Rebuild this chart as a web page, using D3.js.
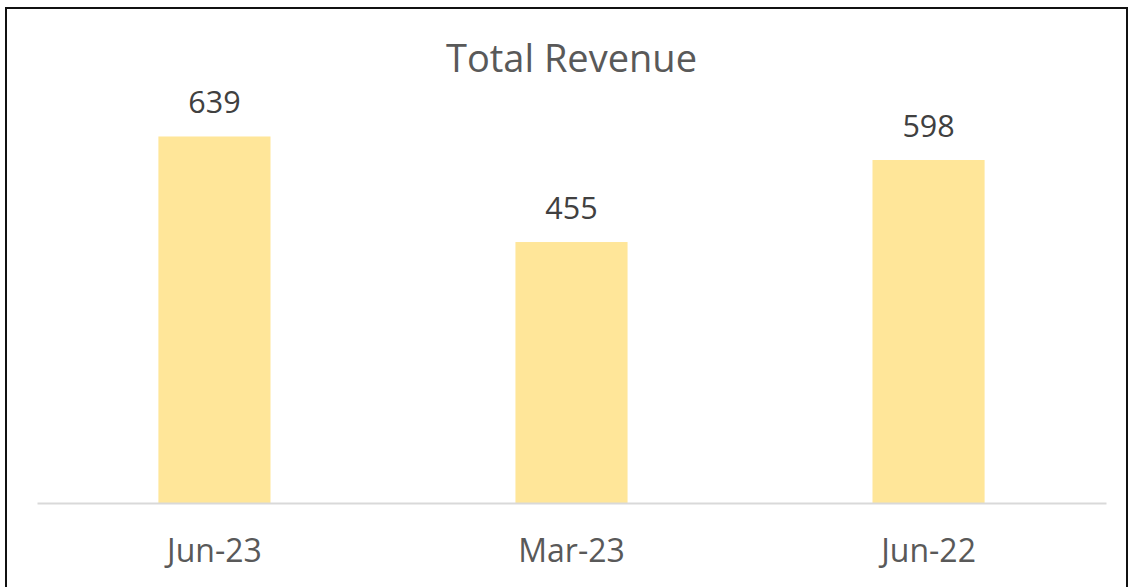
<!DOCTYPE html>
<html>
<head>
<meta charset="utf-8">
<script src="https://cdn.jsdelivr.net/npm/d3@7"></script>
<style>
  body { margin: 0; background: #fff; }
  svg { display: block; font-family: "Open Sans", sans-serif; }
</style>
</head>
<body>
<div class="box"></div>
<script>
// Data
const categories = ["Jun-23", "Mar-23", "Jun-22"];
const revenue = [639, 455, 598];
const chartTitle = "Total Revenue";

// SVG
const w = 1132;
const h = 587;

const svg = d3.select(".box")
    .append("svg")
    .attr("width", w)
    .attr("height", h);

// outer frame
svg.append("rect")
    .attr("x", 6)
    .attr("y", 8)
    .attr("width", 1121)
    .attr("height", 600)
    .attr("fill", "none")
    .attr("stroke", "#111")
    .attr("stroke-width", 2);

// plot area
const left = 37, right = 1106, bottom = 503;

const x = d3.scaleBand()
    .domain(categories)
    .range([left, right])
    .paddingInner(0.686)
    .paddingOuter(0.34);

const y = d3.scaleLinear()
    .domain([0, 700])
    .range([bottom, bottom - 401.5]);

// Title
svg.append("text")
    .attr("x", (left + right) / 2)
    .attr("y", 72)
    .attr("text-anchor", "middle")
    .attr("fill", "#595959")
    .style("font-size", "38px")
    .text(chartTitle);

// Bars
svg.selectAll(".bar")
    .data(revenue)
    .enter()
    .append("rect")
    .attr("class", "bar")
    .attr("x", (d, i) => x(categories[i]))
    .attr("y", d => y(d))
    .attr("width", x.bandwidth())
    .attr("height", d => y(0) - y(d))
    .attr("fill", "#FFE699");

// Value labels
svg.selectAll(".value")
    .data(revenue)
    .enter()
    .append("text")
    .attr("class", "value")
    .attr("x", (d, i) => x(categories[i]) + x.bandwidth() / 2)
    .attr("y", d => y(d) - 23)
    .attr("text-anchor", "middle")
    .attr("fill", "#404040")
    .style("font-size", "30.5px")
    .text(d => d);

// X axis
const xAxis = svg.append("g")
    .attr("transform", "translate(0," + bottom + ")")
    .call(d3.axisBottom(x).tickSize(0).tickPadding(36));

xAxis.select(".domain")
    .attr("stroke", "#D9D9D9")
    .attr("stroke-width", 2);

xAxis.selectAll("text")
    .attr("fill", "#595959")
    .style("font-family", "Open Sans")
    .style("font-size", "32px");
</script>
</body>
</html>
